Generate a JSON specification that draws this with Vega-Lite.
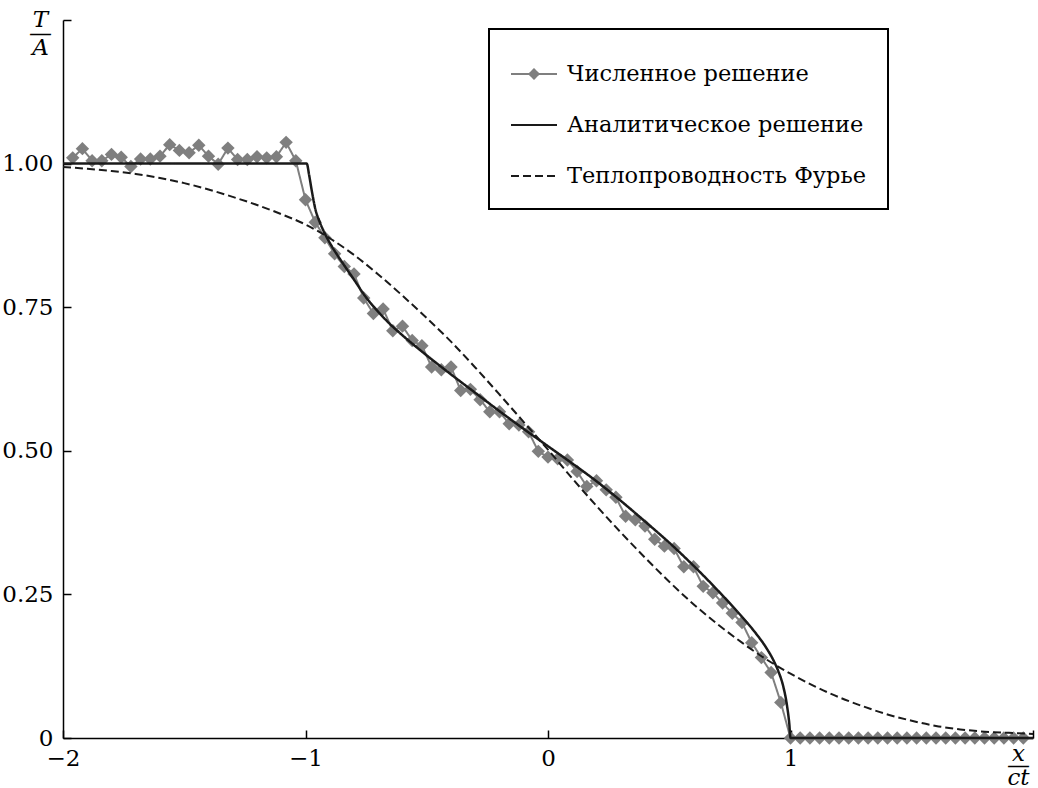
{
  "$schema": "https://vega.github.io/schema/vega-lite/v6.json",
  "width": 970,
  "height": 718,
  "autosize": "none",
  "padding": {"left": 63, "top": 20, "right": 5, "bottom": 50},
  "background": "white",
  "config": {"view": {"stroke": null}, "font": "DejaVu Serif"},
  "data": {"values": [
    {"series":"n","x":-1.96,"y":1.010},{"series":"n","x":-1.92,"y":1.026},{"series":"n","x":-1.88,"y":1.005},{"series":"n","x":-1.84,"y":1.005},
    {"series":"n","x":-1.80,"y":1.016},{"series":"n","x":-1.76,"y":1.011},{"series":"n","x":-1.72,"y":0.995},{"series":"n","x":-1.68,"y":1.008},
    {"series":"n","x":-1.64,"y":1.008},{"series":"n","x":-1.60,"y":1.013},{"series":"n","x":-1.56,"y":1.033},{"series":"n","x":-1.52,"y":1.023},
    {"series":"n","x":-1.48,"y":1.019},{"series":"n","x":-1.44,"y":1.032},{"series":"n","x":-1.40,"y":1.013},{"series":"n","x":-1.36,"y":0.999},
    {"series":"n","x":-1.32,"y":1.027},{"series":"n","x":-1.28,"y":1.007},{"series":"n","x":-1.24,"y":1.007},{"series":"n","x":-1.20,"y":1.012},
    {"series":"n","x":-1.16,"y":1.010},{"series":"n","x":-1.12,"y":1.012},{"series":"n","x":-1.08,"y":1.037},{"series":"n","x":-1.04,"y":1.005},
    {"series":"n","x":-1.00,"y":0.937},{"series":"n","x":-0.96,"y":0.898},{"series":"n","x":-0.92,"y":0.871},{"series":"n","x":-0.88,"y":0.843},
    {"series":"n","x":-0.84,"y":0.821},{"series":"n","x":-0.80,"y":0.808},{"series":"n","x":-0.76,"y":0.766},{"series":"n","x":-0.72,"y":0.739},
    {"series":"n","x":-0.68,"y":0.747},{"series":"n","x":-0.64,"y":0.709},{"series":"n","x":-0.60,"y":0.717},{"series":"n","x":-0.56,"y":0.692},
    {"series":"n","x":-0.52,"y":0.683},{"series":"n","x":-0.48,"y":0.646},{"series":"n","x":-0.44,"y":0.641},{"series":"n","x":-0.40,"y":0.646},
    {"series":"n","x":-0.36,"y":0.605},{"series":"n","x":-0.32,"y":0.607},{"series":"n","x":-0.28,"y":0.589},{"series":"n","x":-0.24,"y":0.568},
    {"series":"n","x":-0.20,"y":0.568},{"series":"n","x":-0.16,"y":0.547},{"series":"n","x":-0.12,"y":0.545},{"series":"n","x":-0.08,"y":0.533},
    {"series":"n","x":-0.04,"y":0.499},{"series":"n","x":0.00,"y":0.489},{"series":"n","x":0.04,"y":0.486},{"series":"n","x":0.08,"y":0.484},
    {"series":"n","x":0.12,"y":0.464},{"series":"n","x":0.16,"y":0.438},{"series":"n","x":0.20,"y":0.448},{"series":"n","x":0.24,"y":0.432},
    {"series":"n","x":0.28,"y":0.419},{"series":"n","x":0.32,"y":0.386},{"series":"n","x":0.36,"y":0.380},{"series":"n","x":0.40,"y":0.369},
    {"series":"n","x":0.44,"y":0.346},{"series":"n","x":0.48,"y":0.334},{"series":"n","x":0.52,"y":0.330},{"series":"n","x":0.56,"y":0.298},
    {"series":"n","x":0.60,"y":0.298},{"series":"n","x":0.64,"y":0.264},{"series":"n","x":0.68,"y":0.253},{"series":"n","x":0.72,"y":0.235},
    {"series":"n","x":0.76,"y":0.217},{"series":"n","x":0.80,"y":0.201},{"series":"n","x":0.84,"y":0.166},{"series":"n","x":0.88,"y":0.140},
    {"series":"n","x":0.92,"y":0.114},{"series":"n","x":0.96,"y":0.062},{"series":"n","x":1.00,"y":0.0},{"series":"n","x":1.04,"y":0.0},
    {"series":"n","x":1.08,"y":0.0},{"series":"n","x":1.12,"y":0.0},{"series":"n","x":1.16,"y":0.0},{"series":"n","x":1.20,"y":0.0},
    {"series":"n","x":1.24,"y":0.0},{"series":"n","x":1.28,"y":0.0},{"series":"n","x":1.32,"y":0.0},{"series":"n","x":1.36,"y":0.0},
    {"series":"n","x":1.40,"y":0.0},{"series":"n","x":1.44,"y":0.0},{"series":"n","x":1.48,"y":0.0},{"series":"n","x":1.52,"y":0.0},
    {"series":"n","x":1.56,"y":0.0},{"series":"n","x":1.60,"y":0.0},{"series":"n","x":1.64,"y":0.0},{"series":"n","x":1.68,"y":0.0},
    {"series":"n","x":1.72,"y":0.0},{"series":"n","x":1.76,"y":0.0},{"series":"n","x":1.80,"y":0.0},{"series":"n","x":1.84,"y":0.0},
    {"series":"n","x":1.88,"y":0.0},{"series":"n","x":1.92,"y":0.0},{"series":"n","x":1.96,"y":0.0},
    {"series":"a","x":-2.0,"y":1.0},{"series":"a","x":-1.0,"y":1.0},{"series":"a","x":-0.995,"y":1.0},{"series":"a","x":-0.985,"y":0.980},
    {"series":"a","x":-0.975,"y":0.955},{"series":"a","x":-0.96,"y":0.922},{"series":"a","x":-0.94,"y":0.897},{"series":"a","x":-0.92,"y":0.878},
    {"series":"a","x":-0.89,"y":0.855},{"series":"a","x":-0.85,"y":0.829},{"series":"a","x":-0.80,"y":0.798},{"series":"a","x":-0.75,"y":0.767},
    {"series":"a","x":-0.70,"y":0.742},{"series":"a","x":-0.65,"y":0.720},{"series":"a","x":-0.60,"y":0.701},{"series":"a","x":-0.50,"y":0.666},
    {"series":"a","x":-0.40,"y":0.633},{"series":"a","x":-0.30,"y":0.601},{"series":"a","x":-0.20,"y":0.569},{"series":"a","x":-0.10,"y":0.538},
    {"series":"a","x":0.0,"y":0.508},{"series":"a","x":0.10,"y":0.478},{"series":"a","x":0.20,"y":0.447},{"series":"a","x":0.30,"y":0.413},
    {"series":"a","x":0.40,"y":0.377},{"series":"a","x":0.50,"y":0.340},{"series":"a","x":0.60,"y":0.300},{"series":"a","x":0.70,"y":0.257},
    {"series":"a","x":0.80,"y":0.211},{"series":"a","x":0.85,"y":0.186},{"series":"a","x":0.90,"y":0.157},{"series":"a","x":0.93,"y":0.135},
    {"series":"a","x":0.95,"y":0.116},{"series":"a","x":0.97,"y":0.090},{"series":"a","x":0.985,"y":0.058},{"series":"a","x":0.995,"y":0.025},
    {"series":"a","x":1.0,"y":0.0},{"series":"a","x":2.0,"y":0.0},
    {"series":"f","x":-2.0,"y":0.994},{"series":"f","x":-1.9,"y":0.991},{"series":"f","x":-1.8,"y":0.987},{"series":"f","x":-1.7,"y":0.982},
    {"series":"f","x":-1.6,"y":0.975},{"series":"f","x":-1.5,"y":0.966},{"series":"f","x":-1.4,"y":0.955},{"series":"f","x":-1.3,"y":0.942},
    {"series":"f","x":-1.2,"y":0.928},{"series":"f","x":-1.1,"y":0.912},{"series":"f","x":-1.0,"y":0.894},{"series":"f","x":-0.9,"y":0.870},
    {"series":"f","x":-0.8,"y":0.841},{"series":"f","x":-0.7,"y":0.807},{"series":"f","x":-0.6,"y":0.770},{"series":"f","x":-0.5,"y":0.731},
    {"series":"f","x":-0.4,"y":0.690},{"series":"f","x":-0.3,"y":0.645},{"series":"f","x":-0.2,"y":0.598},{"series":"f","x":-0.1,"y":0.550},
    {"series":"f","x":0.0,"y":0.502},{"series":"f","x":0.1,"y":0.452},{"series":"f","x":0.2,"y":0.404},{"series":"f","x":0.3,"y":0.358},
    {"series":"f","x":0.4,"y":0.314},{"series":"f","x":0.5,"y":0.272},{"series":"f","x":0.6,"y":0.233},{"series":"f","x":0.7,"y":0.198},
    {"series":"f","x":0.8,"y":0.166},{"series":"f","x":0.9,"y":0.137},{"series":"f","x":1.0,"y":0.112},{"series":"f","x":1.1,"y":0.090},
    {"series":"f","x":1.2,"y":0.071},{"series":"f","x":1.3,"y":0.055},{"series":"f","x":1.4,"y":0.041},{"series":"f","x":1.5,"y":0.030},
    {"series":"f","x":1.6,"y":0.021},{"series":"f","x":1.7,"y":0.015},{"series":"f","x":1.8,"y":0.011},{"series":"f","x":1.9,"y":0.009},
    {"series":"f","x":2.0,"y":0.007}
  ]},
  "encoding": {
    "x": {"field": "x", "type": "quantitative", "scale": {"domain": [-2, 2], "nice": false, "zero": false},
      "axis": {"values": [-2, -1, 0, 1, 2], "format": "d", "labelExpr": "datum.value == 2 ? '' : datum.label",
        "grid": false, "tickSize": -8, "tickWidth": 1.5, "tickColor": "black", "domainColor": "black", "domainWidth": 1.5,
        "labelPadding": 17, "labelFont": "DejaVu Serif", "labelFontSize": 23, "labelColor": "black",
        "labelFlush": false, "labelOverlap": false,
        "title": ["x", "—", "ct"], "titleFont": "DejaVu Serif", "titleFontStyle": "italic", "titleFontWeight": "normal",
        "titleFontSize": 23, "titleColor": "black", "titleX": 955, "titleY": 22, "titleAlign": "center", "titleBaseline": "alphabetic",
        "titleLineHeight": 12}},
    "y": {"field": "y", "type": "quantitative", "scale": {"domain": [0, 1.25], "nice": false},
      "axis": {"values": [0, 0.25, 0.5, 0.75, 1, 1.25],
        "labelExpr": "datum.value == 0 ? '0' : (datum.value > 1.1 ? '' : format(datum.value, '.2f'))",
        "grid": false, "tickSize": -8, "tickWidth": 1.5, "tickColor": "black", "domainColor": "black", "domainWidth": 1.5,
        "labelPadding": 18, "labelFont": "DejaVu Serif", "labelFontSize": 23, "labelColor": "black",
        "labelFlush": false, "labelOverlap": false,
        "title": ["T", "—", "A"], "titleFont": "DejaVu Serif", "titleFontStyle": "italic", "titleFontWeight": "normal",
        "titleFontSize": 23, "titleColor": "black", "titleAngle": 0, "titleX": -23, "titleY": 6, "titleAlign": "center",
        "titleBaseline": "alphabetic", "titleLineHeight": 14}}
  },
  "layer": [
    {
      "transform": [{"filter": "datum.series == 'n'"}],
      "mark": {"type": "line", "strokeWidth": 2, "clip": false},
      "encoding": {
        "color": {"field": "series", "type": "nominal",
          "scale": {"domain": ["n", "a", "f"], "range": ["#7f7f7f", "#1a1a1a", "#1a1a1a"]},
          "legend": {"title": null, "orient": "none", "legendX": 426, "legendY": 9,
            "symbolType": "stroke", "symbolSize": 2116, "symbolStrokeWidth": 2,
            "labelFont": "DejaVu Serif", "labelFontSize": 22.5, "labelColor": "black", "labelOffset": 9, "labelLimit": 0,
            "padding": 21, "rowPadding": 15, "strokeColor": "black",
            "labelExpr": "datum.value == 'n' ? 'Численное решение' : (datum.value == 'a' ? 'Аналитическое решение' : 'Теплопроводность Фурье')",
            "encode": {
              "symbols": {"update": {
                "shape": {"signal": "datum.value == 'n' ? 'M-1,0L1,0M-0.2,0L0,-0.2L0.2,0L0,0.2Z' : 'stroke'"},
                "fill": {"signal": "datum.value == 'n' ? '#7f7f7f' : 'transparent'"}}},
              "legend": {"update": {"strokeWidth": {"value": 2}}}}}},
        "strokeDash": {"field": "series", "type": "nominal",
          "scale": {"domain": ["n", "a", "f"], "range": [[1, 0], [1, 0], [8, 4]]}}
      }
    },
    {
      "transform": [{"filter": "datum.series == 'n'"}],
      "mark": {"type": "point", "shape": "diamond", "filled": true, "size": 180, "color": "#7f7f7f", "opacity": 1, "clip": false}
    },
    {
      "transform": [{"filter": "datum.series == 'a'"}],
      "mark": {"type": "line", "strokeWidth": 2.5, "interpolate": "monotone", "clip": false},
      "encoding": {
        "color": {"field": "series", "type": "nominal"},
        "strokeDash": {"field": "series", "type": "nominal"}
      }
    },
    {
      "transform": [{"filter": "datum.series == 'f'"}],
      "mark": {"type": "line", "strokeWidth": 2, "interpolate": "monotone", "clip": false},
      "encoding": {
        "color": {"field": "series", "type": "nominal"},
        "strokeDash": {"field": "series", "type": "nominal"}
      }
    }
  ]
}
